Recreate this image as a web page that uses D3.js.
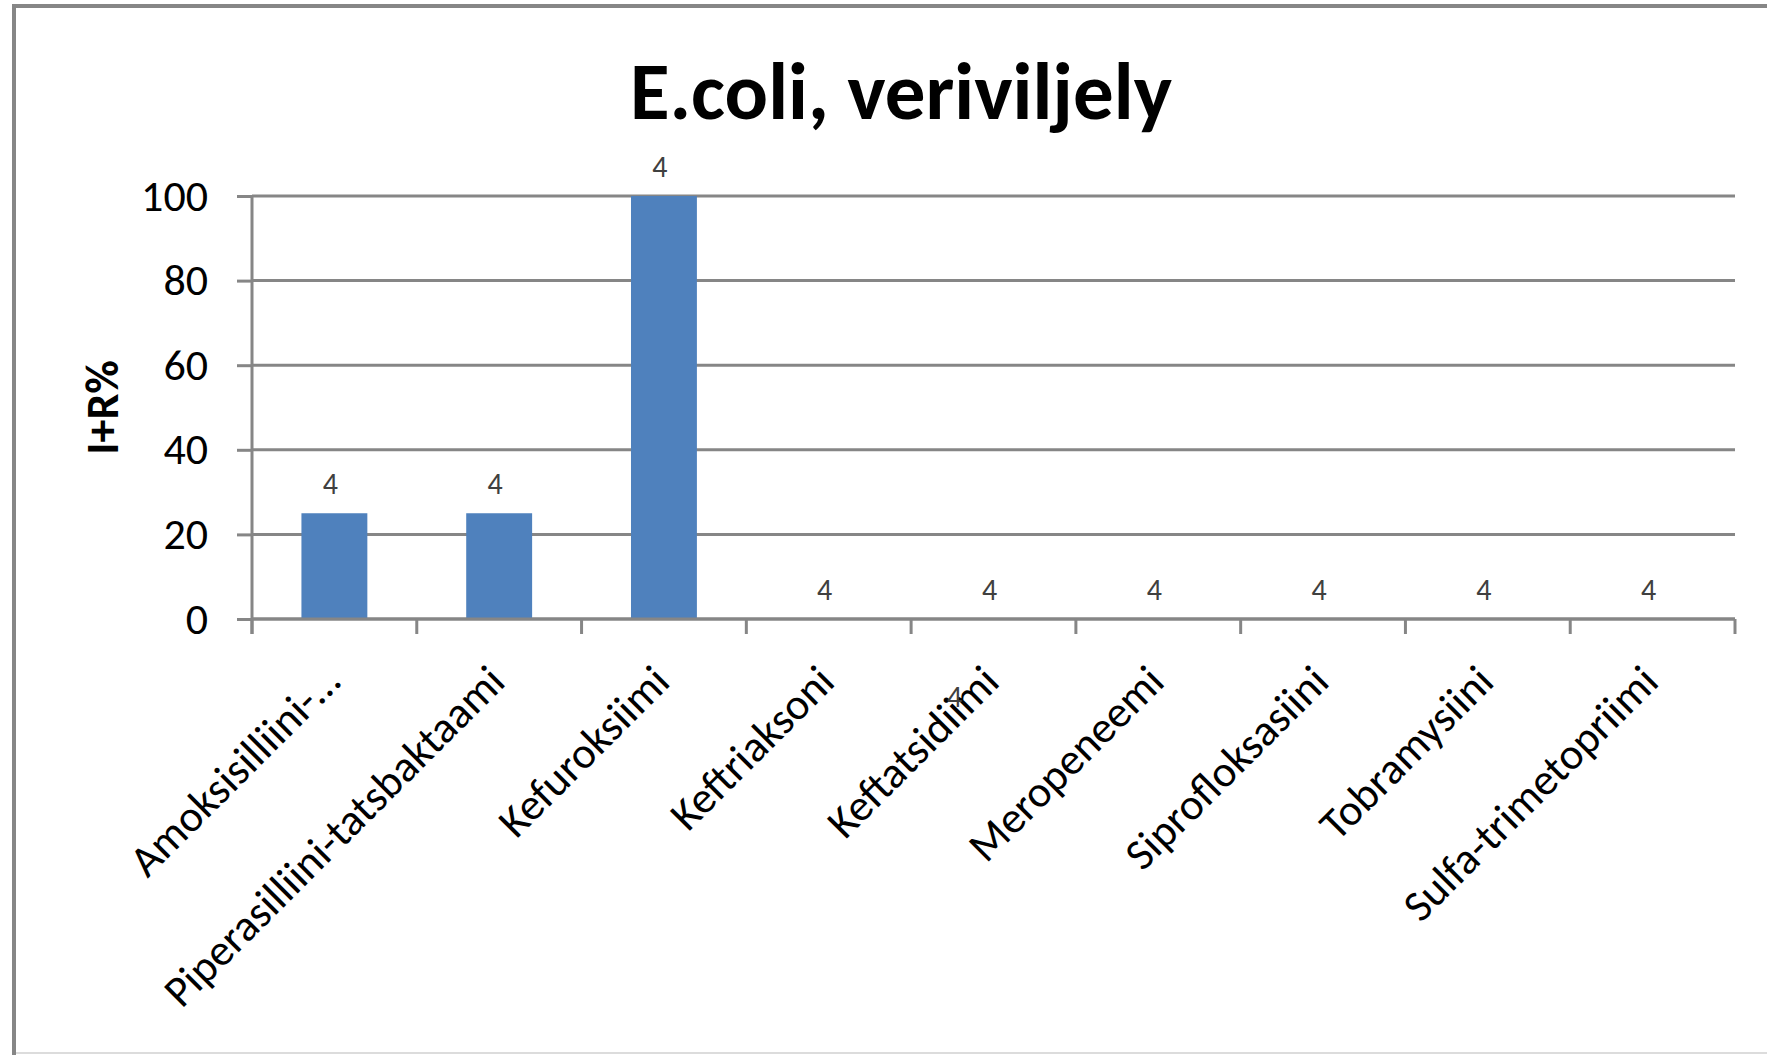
<!DOCTYPE html>
<html>
<head>
<meta charset="utf-8">
<script src="https://cdn.jsdelivr.net/npm/d3@7"></script>
<style>
  body { margin: 0; background: #fff; }
  text { font-family: Carlito, Lato, "Open Sans", sans-serif; }
</style>
</head>
<body>
<svg id="chart" width="1767" height="1055"></svg>
<script>
// data
const categories = [
  "Amoksisilliini-…",
  "Piperasilliini-tatsbaktaami",
  "Kefuroksiimi",
  "Keftriaksoni",
  "Keftatsidiimi",
  "Meropeneemi",
  "Siprofloksasiini",
  "Tobramysiini",
  "Sulfa-trimetopriimi"
];
const values = [25, 25, 100, 0, 0, 0, 0, 0, 0];
const counts = ["4", "4", "4", "4", "4", "4", "4", "4", "4"];
const yTicks = [0, 20, 40, 60, 80, 100];
// a second, misplaced data label Excel left under the axis
const strayLabels = [{ category: "Keftatsidiimi", text: "4" }];

const title = "E.coli, veriviljely";
const yLabel = "I+R%";

const svg = d3.select("#chart");
const gridColor = "#868686";
const barColor = "#4F81BD";

const plot = { left: 252, right: 1735, top: 196, bottom: 619 };

// chart area frame (left and top edges show, the rest runs off the picture)
svg.append("path")
  .attr("d", "M14,1055 V6 H1767")
  .attr("fill", "none")
  .attr("stroke", gridColor)
  .attr("stroke-width", 4);
svg.append("line")
  .attr("x1", 16).attr("x2", 1767)
  .attr("y1", 1053).attr("y2", 1053)
  .attr("stroke", "#dcdcdc").attr("stroke-width", 2);

const y = d3.scaleLinear().domain([0, 100]).range([plot.bottom, plot.top]);
const xCat = d3.scaleBand().domain(categories).range([plot.left, plot.right]);
const xBar = d3.scaleBand().domain(categories).range([plot.left, plot.right])
  .paddingInner(0.6).paddingOuter(0.3);

// gridlines
svg.append("g")
  .selectAll("line.grid")
  .data(yTicks)
  .join("line")
  .attr("class", "grid")
  .attr("x1", plot.left).attr("x2", plot.right)
  .attr("y1", (d) => y(d)).attr("y2", (d) => y(d))
  .attr("stroke", gridColor).attr("stroke-width", 3);

// y axis
const yAxis = svg.append("g")
  .attr("transform", `translate(${plot.left},0)`)
  .call(d3.axisLeft(y).tickValues(yTicks).tickSize(15).tickPadding(29));
yAxis.select(".domain").remove();
yAxis.selectAll(".tick line").attr("stroke", gridColor).attr("stroke-width", 3);
yAxis.selectAll(".tick text")
  .attr("fill", "#000")
  .attr("font-size", 44)
  .attr("font-family", "Carlito, Lato, sans-serif");
svg.append("line")
  .attr("x1", plot.left).attr("x2", plot.left)
  .attr("y1", plot.top).attr("y2", plot.bottom + 15)
  .attr("stroke", gridColor).attr("stroke-width", 3);

// bars
svg.append("g")
  .selectAll("rect.bar")
  .data(categories.map((c, i) => ({ c, v: values[i] })))
  .join("rect")
  .attr("class", "bar")
  .attr("x", (d) => xBar(d.c))
  .attr("y", (d) => y(d.v))
  .attr("width", xBar.bandwidth())
  .attr("height", (d) => y(0) - y(d.v))
  .attr("fill", barColor);

// x axis line and ticks between categories
svg.append("line")
  .attr("x1", plot.left).attr("x2", plot.right)
  .attr("y1", plot.bottom).attr("y2", plot.bottom)
  .attr("stroke", gridColor).attr("stroke-width", 3);
const bounds = categories.map((c) => xCat(c)).concat([plot.right]);
svg.append("g")
  .selectAll("line.xtick")
  .data(bounds)
  .join("line")
  .attr("class", "xtick")
  .attr("x1", (d) => d).attr("x2", (d) => d)
  .attr("y1", plot.bottom).attr("y2", plot.bottom + 15)
  .attr("stroke", gridColor).attr("stroke-width", 3);

// category labels
svg.append("g")
  .selectAll("text.cat")
  .data(categories)
  .join("text")
  .attr("class", "cat")
  .attr("transform", (d) =>
    `translate(${xCat(d) + xCat.bandwidth() / 2 + 8},${plot.bottom + 65}) rotate(-45)`)
  .attr("text-anchor", "end")
  .attr("font-size", 44)
  .attr("fill", "#000")
  .text((d) => d);

// data labels
svg.append("g")
  .selectAll("text.val")
  .data(categories.map((c, i) => ({ c, v: values[i], t: counts[i] })))
  .join("text")
  .attr("class", "val")
  .attr("x", (d) => xCat(d.c) + xCat.bandwidth() / 2 - 4)
  .attr("y", (d) => y(d.v) - 19)
  .attr("text-anchor", "middle")
  .attr("font-size", 30)
  .attr("fill", "#404040")
  .text((d) => d.t);

svg.append("g")
  .selectAll("text.stray")
  .data(strayLabels)
  .join("text")
  .attr("class", "stray")
  .attr("x", (d) => xCat(d.category) + xCat.bandwidth() / 2 - 39)
  .attr("y", y(0) + 88)
  .attr("text-anchor", "middle")
  .attr("font-size", 30)
  .attr("fill", "#404040")
  .text((d) => d.text);

// title
svg.append("text")
  .attr("x", 901).attr("y", 119)
  .attr("text-anchor", "middle")
  .attr("font-size", 81)
  .attr("font-weight", "bold")
  .attr("fill", "#000")
  .text(title);

// y axis title
svg.append("text")
  .attr("transform", `translate(118,${(plot.top + plot.bottom) / 2}) rotate(-90)`)
  .attr("text-anchor", "middle")
  .attr("font-size", 46)
  .attr("font-weight", "bold")
  .attr("fill", "#000")
  .text(yLabel);
</script>
</body>
</html>
